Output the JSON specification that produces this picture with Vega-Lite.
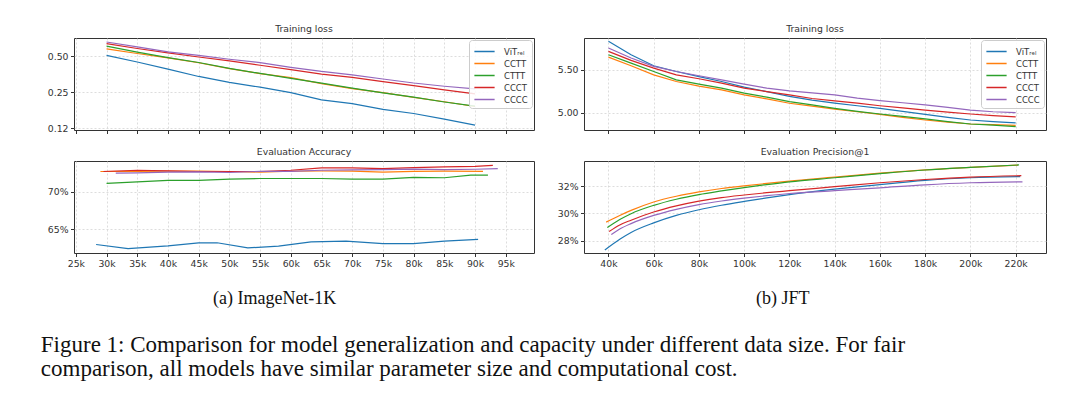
{
  "$schema": "https://vega.github.io/schema/vega-lite/v6.json",
  "padding": {"left": 40, "top": 24, "right": 0, "bottom": 0},
  "background": "white",
  "datasets": {
    "lossIN": [
      {"model":"ViT_rel","step":30000,"v":0.506},{"model":"ViT_rel","step":35000,"v":0.446},{"model":"ViT_rel","step":40000,"v":0.389},{"model":"ViT_rel","step":45000,"v":0.338},{"model":"ViT_rel","step":50000,"v":0.302},{"model":"ViT_rel","step":55000,"v":0.275},{"model":"ViT_rel","step":60000,"v":0.248},{"model":"ViT_rel","step":65000,"v":0.216},{"model":"ViT_rel","step":70000,"v":0.201},{"model":"ViT_rel","step":75000,"v":0.18},{"model":"ViT_rel","step":80000,"v":0.166},{"model":"ViT_rel","step":85000,"v":0.149},{"model":"ViT_rel","step":90000,"v":0.133},
      {"model":"CCTT","step":30000,"v":0.574},{"model":"CCTT","step":35000,"v":0.525},{"model":"CCTT","step":40000,"v":0.482},{"model":"CCTT","step":45000,"v":0.44},{"model":"CCTT","step":50000,"v":0.393},{"model":"CCTT","step":55000,"v":0.357},{"model":"CCTT","step":60000,"v":0.33},{"model":"CCTT","step":65000,"v":0.295},{"model":"CCTT","step":70000,"v":0.268},{"model":"CCTT","step":75000,"v":0.248},{"model":"CCTT","step":80000,"v":0.226},{"model":"CCTT","step":85000,"v":0.208},{"model":"CCTT","step":90000,"v":0.19},
      {"model":"CTTT","step":30000,"v":0.604},{"model":"CTTT","step":35000,"v":0.539},{"model":"CTTT","step":40000,"v":0.486},{"model":"CTTT","step":45000,"v":0.442},{"model":"CTTT","step":50000,"v":0.395},{"model":"CTTT","step":55000,"v":0.358},{"model":"CTTT","step":60000,"v":0.326},{"model":"CTTT","step":65000,"v":0.297},{"model":"CTTT","step":70000,"v":0.27},{"model":"CTTT","step":75000,"v":0.247},{"model":"CTTT","step":80000,"v":0.227},{"model":"CTTT","step":85000,"v":0.207},{"model":"CTTT","step":90000,"v":0.191},
      {"model":"CCCT","step":30000,"v":0.635},{"model":"CCCT","step":35000,"v":0.578},{"model":"CCCT","step":40000,"v":0.532},{"model":"CCCT","step":45000,"v":0.491},{"model":"CCCT","step":50000,"v":0.455},{"model":"CCCT","step":55000,"v":0.419},{"model":"CCCT","step":60000,"v":0.385},{"model":"CCCT","step":65000,"v":0.354},{"model":"CCCT","step":70000,"v":0.332},{"model":"CCCT","step":75000,"v":0.306},{"model":"CCCT","step":80000,"v":0.283},{"model":"CCCT","step":85000,"v":0.261},{"model":"CCCT","step":90000,"v":0.242},
      {"model":"CCCC","step":30000,"v":0.655},{"model":"CCCC","step":35000,"v":0.597},{"model":"CCCC","step":40000,"v":0.541},{"model":"CCCC","step":45000,"v":0.506},{"model":"CCCC","step":50000,"v":0.47},{"model":"CCCC","step":55000,"v":0.441},{"model":"CCCC","step":60000,"v":0.403},{"model":"CCCC","step":65000,"v":0.372},{"model":"CCCC","step":70000,"v":0.349},{"model":"CCCC","step":75000,"v":0.322},{"model":"CCCC","step":80000,"v":0.298},{"model":"CCCC","step":85000,"v":0.28},{"model":"CCCC","step":90000,"v":0.266}
    ],
    "accIN": [
      {"model":"ViT_rel","step":28300,"v":62.97},{"model":"ViT_rel","step":33500,"v":62.43},{"model":"ViT_rel","step":40000,"v":62.79},{"model":"ViT_rel","step":45000,"v":63.2},{"model":"ViT_rel","step":48000,"v":63.2},{"model":"ViT_rel","step":53000,"v":62.52},{"model":"ViT_rel","step":58000,"v":62.75},{"model":"ViT_rel","step":63300,"v":63.33},{"model":"ViT_rel","step":69000,"v":63.42},{"model":"ViT_rel","step":75000,"v":63.1},{"model":"ViT_rel","step":80000,"v":63.1},{"model":"ViT_rel","step":85000,"v":63.42},{"model":"ViT_rel","step":90500,"v":63.65},
      {"model":"CCTT","step":29000,"v":72.68},{"model":"CCTT","step":35000,"v":72.7},{"model":"CCTT","step":40000,"v":72.72},{"model":"CCTT","step":45000,"v":72.75},{"model":"CCTT","step":50000,"v":72.68},{"model":"CCTT","step":55000,"v":72.6},{"model":"CCTT","step":60000,"v":72.72},{"model":"CCTT","step":65000,"v":72.75},{"model":"CCTT","step":70000,"v":72.72},{"model":"CCTT","step":75000,"v":72.6},{"model":"CCTT","step":80000,"v":72.7},{"model":"CCTT","step":85000,"v":72.72},{"model":"CCTT","step":91300,"v":72.7},
      {"model":"CTTT","step":30000,"v":71.1},{"model":"CTTT","step":35000,"v":71.3},{"model":"CTTT","step":40000,"v":71.5},{"model":"CTTT","step":45000,"v":71.5},{"model":"CTTT","step":50000,"v":71.67},{"model":"CTTT","step":55000,"v":71.75},{"model":"CTTT","step":60000,"v":71.75},{"model":"CTTT","step":65000,"v":71.75},{"model":"CTTT","step":70000,"v":71.67},{"model":"CTTT","step":75000,"v":71.67},{"model":"CTTT","step":80000,"v":71.9},{"model":"CTTT","step":85000,"v":71.85},{"model":"CTTT","step":89300,"v":72.2},{"model":"CTTT","step":92100,"v":72.2},
      {"model":"CCCT","step":29500,"v":72.68},{"model":"CCCT","step":35000,"v":72.85},{"model":"CCCT","step":40000,"v":72.77},{"model":"CCCT","step":45000,"v":72.68},{"model":"CCCT","step":50000,"v":72.68},{"model":"CCCT","step":55000,"v":72.68},{"model":"CCCT","step":60000,"v":72.85},{"model":"CCCT","step":65000,"v":73.16},{"model":"CCCT","step":70000,"v":73.16},{"model":"CCCT","step":75000,"v":73.07},{"model":"CCCT","step":80000,"v":73.2},{"model":"CCCT","step":85000,"v":73.29},{"model":"CCCT","step":90000,"v":73.37},{"model":"CCCT","step":92900,"v":73.5},
      {"model":"CCCC","step":31500,"v":72.46},{"model":"CCCC","step":35000,"v":72.5},{"model":"CCCC","step":40000,"v":72.6},{"model":"CCCC","step":45000,"v":72.63},{"model":"CCCC","step":50000,"v":72.55},{"model":"CCCC","step":55000,"v":72.7},{"model":"CCCC","step":60000,"v":72.7},{"model":"CCCC","step":65000,"v":72.85},{"model":"CCCC","step":70000,"v":72.9},{"model":"CCCC","step":75000,"v":72.94},{"model":"CCCC","step":80000,"v":73.0},{"model":"CCCC","step":85000,"v":72.94},{"model":"CCCC","step":90000,"v":72.98},{"model":"CCCC","step":93700,"v":73.07}
    ],
    "lossJFT": [
      {"model":"ViT_rel","step":40000,"v":5.832},{"model":"ViT_rel","step":50000,"v":5.676},{"model":"ViT_rel","step":60000,"v":5.547},{"model":"ViT_rel","step":70000,"v":5.48},{"model":"ViT_rel","step":80000,"v":5.42},{"model":"ViT_rel","step":90000,"v":5.363},{"model":"ViT_rel","step":100000,"v":5.297},{"model":"ViT_rel","step":110000,"v":5.246},{"model":"ViT_rel","step":120000,"v":5.19},{"model":"ViT_rel","step":130000,"v":5.145},{"model":"ViT_rel","step":140000,"v":5.11},{"model":"ViT_rel","step":150000,"v":5.08},{"model":"ViT_rel","step":160000,"v":5.05},{"model":"ViT_rel","step":170000,"v":5.015},{"model":"ViT_rel","step":180000,"v":4.98},{"model":"ViT_rel","step":190000,"v":4.945},{"model":"ViT_rel","step":200000,"v":4.914},{"model":"ViT_rel","step":210000,"v":4.895},{"model":"ViT_rel","step":220000,"v":4.88},
      {"model":"CCTT","step":40000,"v":5.648},{"model":"CCTT","step":50000,"v":5.547},{"model":"CCTT","step":60000,"v":5.44},{"model":"CCTT","step":70000,"v":5.363},{"model":"CCTT","step":80000,"v":5.31},{"model":"CCTT","step":90000,"v":5.266},{"model":"CCTT","step":100000,"v":5.207},{"model":"CCTT","step":110000,"v":5.16},{"model":"CCTT","step":120000,"v":5.109},{"model":"CCTT","step":130000,"v":5.075},{"model":"CCTT","step":140000,"v":5.04},{"model":"CCTT","step":150000,"v":5.01},{"model":"CCTT","step":160000,"v":4.98},{"model":"CCTT","step":170000,"v":4.945},{"model":"CCTT","step":180000,"v":4.914},{"model":"CCTT","step":190000,"v":4.89},{"model":"CCTT","step":200000,"v":4.867},{"model":"CCTT","step":210000,"v":4.86},{"model":"CCTT","step":220000,"v":4.85},
      {"model":"CTTT","step":40000,"v":5.676},{"model":"CTTT","step":50000,"v":5.578},{"model":"CTTT","step":60000,"v":5.48},{"model":"CTTT","step":70000,"v":5.383},{"model":"CTTT","step":80000,"v":5.332},{"model":"CTTT","step":90000,"v":5.285},{"model":"CTTT","step":100000,"v":5.227},{"model":"CTTT","step":110000,"v":5.18},{"model":"CTTT","step":120000,"v":5.129},{"model":"CTTT","step":130000,"v":5.09},{"model":"CTTT","step":140000,"v":5.05},{"model":"CTTT","step":150000,"v":5.015},{"model":"CTTT","step":160000,"v":4.984},{"model":"CTTT","step":170000,"v":4.955},{"model":"CTTT","step":180000,"v":4.926},{"model":"CTTT","step":190000,"v":4.895},{"model":"CTTT","step":200000,"v":4.867},{"model":"CTTT","step":210000,"v":4.855},{"model":"CTTT","step":220000,"v":4.836},
      {"model":"CCCT","step":40000,"v":5.715},{"model":"CCCT","step":50000,"v":5.61},{"model":"CCCT","step":60000,"v":5.52},{"model":"CCCT","step":70000,"v":5.44},{"model":"CCCT","step":80000,"v":5.395},{"model":"CCCT","step":90000,"v":5.344},{"model":"CCCT","step":100000,"v":5.285},{"model":"CCCT","step":110000,"v":5.246},{"model":"CCCT","step":120000,"v":5.207},{"model":"CCCT","step":130000,"v":5.165},{"model":"CCCT","step":140000,"v":5.137},{"model":"CCCT","step":150000,"v":5.11},{"model":"CCCT","step":160000,"v":5.08},{"model":"CCCT","step":170000,"v":5.055},{"model":"CCCT","step":180000,"v":5.03},{"model":"CCCT","step":190000,"v":5.005},{"model":"CCCT","step":200000,"v":4.984},{"model":"CCCT","step":210000,"v":4.965},{"model":"CCCT","step":220000,"v":4.95},
      {"model":"CCCC","step":40000,"v":5.754},{"model":"CCCC","step":50000,"v":5.637},{"model":"CCCC","step":60000,"v":5.54},{"model":"CCCC","step":70000,"v":5.48},{"model":"CCCC","step":80000,"v":5.43},{"model":"CCCC","step":90000,"v":5.383},{"model":"CCCC","step":100000,"v":5.332},{"model":"CCCC","step":110000,"v":5.285},{"model":"CCCC","step":120000,"v":5.254},{"model":"CCCC","step":130000,"v":5.23},{"model":"CCCC","step":140000,"v":5.207},{"model":"CCCC","step":150000,"v":5.17},{"model":"CCCC","step":160000,"v":5.14},{"model":"CCCC","step":170000,"v":5.115},{"model":"CCCC","step":180000,"v":5.09},{"model":"CCCC","step":190000,"v":5.06},{"model":"CCCC","step":200000,"v":5.03},{"model":"CCCC","step":210000,"v":5.01},{"model":"CCCC","step":220000,"v":5.0}
    ],
    "precJFT": [
      {"model":"ViT_rel","step":38400,"v":27.31},{"model":"ViT_rel","step":45000,"v":28.1},{"model":"ViT_rel","step":50000,"v":28.6},{"model":"ViT_rel","step":60000,"v":29.3},{"model":"ViT_rel","step":70000,"v":29.85},{"model":"ViT_rel","step":80000,"v":30.27},{"model":"ViT_rel","step":90000,"v":30.6},{"model":"ViT_rel","step":100000,"v":30.88},{"model":"ViT_rel","step":110000,"v":31.14},{"model":"ViT_rel","step":120000,"v":31.38},{"model":"ViT_rel","step":140000,"v":31.78},{"model":"ViT_rel","step":160000,"v":32.12},{"model":"ViT_rel","step":180000,"v":32.42},{"model":"ViT_rel","step":200000,"v":32.62},{"model":"ViT_rel","step":222000,"v":32.7},
      {"model":"CCTT","step":39000,"v":29.36},{"model":"CCTT","step":45000,"v":29.85},{"model":"CCTT","step":50000,"v":30.22},{"model":"CCTT","step":60000,"v":30.84},{"model":"CCTT","step":70000,"v":31.26},{"model":"CCTT","step":80000,"v":31.58},{"model":"CCTT","step":90000,"v":31.83},{"model":"CCTT","step":100000,"v":32.02},{"model":"CCTT","step":110000,"v":32.2},{"model":"CCTT","step":120000,"v":32.37},{"model":"CCTT","step":140000,"v":32.66},{"model":"CCTT","step":160000,"v":32.96},{"model":"CCTT","step":180000,"v":33.2},{"model":"CCTT","step":200000,"v":33.38},{"model":"CCTT","step":221000,"v":33.54},
      {"model":"CTTT","step":39500,"v":28.96},{"model":"CTTT","step":45000,"v":29.55},{"model":"CTTT","step":50000,"v":29.98},{"model":"CTTT","step":60000,"v":30.59},{"model":"CTTT","step":70000,"v":31.04},{"model":"CTTT","step":80000,"v":31.38},{"model":"CTTT","step":90000,"v":31.65},{"model":"CTTT","step":100000,"v":31.9},{"model":"CTTT","step":110000,"v":32.12},{"model":"CTTT","step":120000,"v":32.32},{"model":"CTTT","step":140000,"v":32.62},{"model":"CTTT","step":160000,"v":32.92},{"model":"CTTT","step":180000,"v":33.19},{"model":"CTTT","step":200000,"v":33.38},{"model":"CTTT","step":221500,"v":33.56},
      {"model":"CCCT","step":40300,"v":28.67},{"model":"CCCT","step":45000,"v":29.15},{"model":"CCCT","step":50000,"v":29.5},{"model":"CCCT","step":60000,"v":30.1},{"model":"CCCT","step":70000,"v":30.55},{"model":"CCCT","step":80000,"v":30.9},{"model":"CCCT","step":90000,"v":31.16},{"model":"CCCT","step":100000,"v":31.35},{"model":"CCCT","step":110000,"v":31.52},{"model":"CCCT","step":120000,"v":31.67},{"model":"CCCT","step":140000,"v":31.96},{"model":"CCCT","step":160000,"v":32.25},{"model":"CCCT","step":180000,"v":32.49},{"model":"CCCT","step":200000,"v":32.67},{"model":"CCCT","step":222500,"v":32.77},
      {"model":"CCCC","step":41300,"v":28.44},{"model":"CCCC","step":45000,"v":28.85},{"model":"CCCC","step":50000,"v":29.25},{"model":"CCCC","step":60000,"v":29.85},{"model":"CCCC","step":70000,"v":30.3},{"model":"CCCC","step":80000,"v":30.65},{"model":"CCCC","step":90000,"v":30.91},{"model":"CCCC","step":100000,"v":31.12},{"model":"CCCC","step":110000,"v":31.3},{"model":"CCCC","step":120000,"v":31.46},{"model":"CCCC","step":140000,"v":31.67},{"model":"CCCC","step":160000,"v":31.88},{"model":"CCCC","step":180000,"v":32.1},{"model":"CCCC","step":200000,"v":32.25},{"model":"CCCC","step":223000,"v":32.32}
    ]
  },
  "title": {
    "text": ["Figure 1: Comparison for model generalization and capacity under different data size.  For fair", "comparison, all models have similar parameter size and computational cost."],
    "orient": "bottom", "anchor": "start", "font": "Liberation Serif", "fontSize": 23, "fontWeight": "normal", "color": "#111", "lineHeight": 24, "offset": 26, "dx": -6, "frame": "bounds"
  },
  "spacing": 21,
  "resolve": {"legend": {"color": "independent"}, "scale": {"color": "independent"}},
  "hconcat": [
    {
      "title": {"text": "(a) ImageNet-1K", "orient": "bottom", "anchor": "middle", "font": "Liberation Serif", "fontSize": 18, "fontWeight": "normal", "color": "#111", "offset": 21, "dx": -16},
      "spacing": 12,
      "resolve": {"legend": {"color": "independent"}, "scale": {"color": "independent"}},
      "vconcat": [
        {
          "width": 460, "height": 92,
          "title": "Training loss",
          "data": {"name": "lossIN"},
          "mark": {"type": "line", "strokeWidth": 1.2, "clip": true},
          "encoding": {
            "x": {"field": "step", "type": "quantitative", "scale": {"domain": [24700, 99600], "nice": false, "zero": false}, "axis": {"title": null, "labels": false, "values": [25000,30000,35000,40000,45000,50000,55000,60000,65000,70000,75000,80000,85000,90000,95000]}},
            "y": {"field": "v", "type": "quantitative", "scale": {"type": "log", "base": 2, "domain": [0.121, 0.707], "nice": false}, "axis": {"title": null, "values": [0.125, 0.25, 0.5], "labelExpr": "datum.value < 0.2 ? '0.12' : format(datum.value, '.2f')"}},
            "color": {"field": "model", "type": "nominal", "sort": null, "scale": {"domain": ["ViT_rel","CCTT","CTTT","CCCT","CCCC"], "range": ["#1f77b4","#ff7f0e","#2ca02c","#d62728","#9467bd"]},
              "legend": {"orient": "top-right", "offset": 2, "title": null, "symbolType": "M-1.6,0H1.6", "symbolSize": 160, "symbolStrokeWidth": 1.5, "symbolOffset": 4, "labelOffset": 12, "labelFontSize": 8.5, "labelColor": "#333", "rowPadding": 0, "padding": 4, "fillColor": "rgba(255,255,255,0.85)", "strokeColor": "#ccc", "cornerRadius": 3, "labelExpr": "datum.label == 'ViT_rel' ? 'ViTᵣₑₗ' : datum.label"}}
          }
        },
        {
          "width": 460, "height": 92,
          "title": "Evaluation Accuracy",
          "data": {"name": "accIN"},
          "mark": {"type": "line", "strokeWidth": 1.2, "clip": true},
          "encoding": {
            "x": {"field": "step", "type": "quantitative", "scale": {"domain": [24700, 99600], "nice": false, "zero": false}, "axis": {"title": null, "values": [25000,30000,35000,40000,45000,50000,55000,60000,65000,70000,75000,80000,85000,90000,95000], "labelExpr": "format(datum.value/1000, 'd') + 'k'"}},
            "y": {"field": "v", "type": "quantitative", "scale": {"domain": [61.84, 74.08], "nice": false, "zero": false}, "axis": {"title": null, "values": [65, 70], "labelExpr": "datum.value + '%'"}},
            "color": {"field": "model", "type": "nominal", "sort": null, "scale": {"domain": ["ViT_rel","CCTT","CTTT","CCCT","CCCC"], "range": ["#1f77b4","#ff7f0e","#2ca02c","#d62728","#9467bd"]}, "legend": null}
          }
        }
      ]
    },
    {
      "title": {"text": "(b) JFT", "orient": "bottom", "anchor": "middle", "font": "Liberation Serif", "fontSize": 18, "fontWeight": "normal", "color": "#111", "offset": 21, "dx": -19},
      "spacing": 12,
      "resolve": {"legend": {"color": "independent"}, "scale": {"color": "independent"}},
      "vconcat": [
        {
          "width": 462, "height": 92,
          "title": "Training loss",
          "data": {"name": "lossJFT"},
          "mark": {"type": "line", "strokeWidth": 1.2, "clip": true},
          "encoding": {
            "x": {"field": "step", "type": "quantitative", "scale": {"domain": [29200, 233400], "nice": false, "zero": false}, "axis": {"title": null, "labels": false, "values": [40000,60000,80000,100000,120000,140000,160000,180000,200000,220000]}},
            "y": {"field": "v", "type": "quantitative", "scale": {"domain": [4.797, 5.871], "nice": false, "zero": false}, "axis": {"title": null, "values": [5.0, 5.5], "format": ".2f"}},
            "color": {"field": "model", "type": "nominal", "sort": null, "scale": {"domain": ["ViT_rel","CCTT","CTTT","CCCT","CCCC"], "range": ["#1f77b4","#ff7f0e","#2ca02c","#d62728","#9467bd"]},
              "legend": {"orient": "top-right", "offset": 2, "title": null, "symbolType": "M-1.6,0H1.6", "symbolSize": 160, "symbolStrokeWidth": 1.5, "symbolOffset": 4, "labelOffset": 12, "labelFontSize": 8.5, "labelColor": "#333", "rowPadding": 0, "padding": 4, "fillColor": "rgba(255,255,255,0.85)", "strokeColor": "#ccc", "cornerRadius": 3, "labelExpr": "datum.label == 'ViT_rel' ? 'ViTᵣₑₗ' : datum.label"}}
          }
        },
        {
          "width": 462, "height": 92,
          "title": "Evaluation Precision@1",
          "data": {"name": "precJFT"},
          "mark": {"type": "line", "strokeWidth": 1.2, "clip": true, "interpolate": "monotone"},
          "encoding": {
            "x": {"field": "step", "type": "quantitative", "scale": {"domain": [29200, 233400], "nice": false, "zero": false}, "axis": {"title": null, "values": [40000,60000,80000,100000,120000,140000,160000,180000,200000,220000], "labelExpr": "format(datum.value/1000, 'd') + 'k'"}},
            "y": {"field": "v", "type": "quantitative", "scale": {"domain": [27.09, 33.85], "nice": false, "zero": false}, "axis": {"title": null, "values": [28, 30, 32], "labelExpr": "datum.value + '%'"}},
            "color": {"field": "model", "type": "nominal", "sort": null, "scale": {"domain": ["ViT_rel","CCTT","CTTT","CCCT","CCCC"], "range": ["#1f77b4","#ff7f0e","#2ca02c","#d62728","#9467bd"]}, "legend": null}
          }
        }
      ]
    }
  ],
  "config": {
    "font": "DejaVu Sans",
    "view": {"stroke": "#333", "strokeWidth": 1},
    "axis": {"labelFontSize": 9.3, "labelColor": "#333", "tickColor": "#333", "tickSize": 3.5, "labelPadding": 2.5, "domain": false, "grid": true, "gridColor": "#d4d4d4", "gridDash": [2, 2], "gridWidth": 0.8},
    "title": {"fontSize": 9.3, "fontWeight": "normal", "color": "#333", "offset": 4}
  }
}
